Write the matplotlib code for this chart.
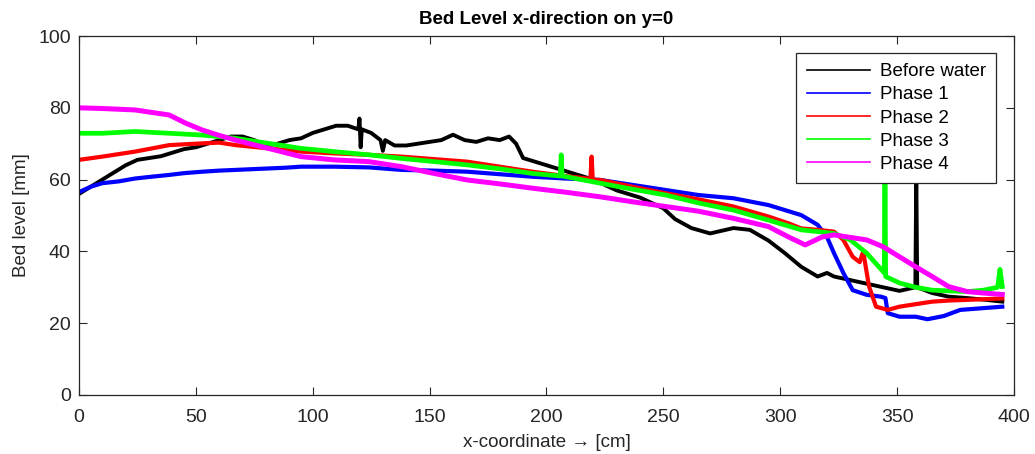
import matplotlib
matplotlib.use("Agg")
import matplotlib.pyplot as plt
import numpy as np

plt.rcParams['font.family'] = ['Liberation Sans', 'DejaVu Sans']

# Bed level readings [mm] along x [cm]
black_x = [0, 5, 10, 15, 20, 25, 30, 35, 40, 45,
           50, 55, 60, 65, 70, 75, 80, 85, 90, 95,
           100, 105, 110, 115, 119.5, 120, 120.5, 121, 125, 129,
           130, 131, 135, 140, 145, 150, 155, 160, 165, 170,
           175, 180, 184, 187, 190, 195, 200, 205, 210, 215,
           220, 230, 240, 250, 255, 262, 270, 280, 287, 295,
           302, 309, 316, 320, 323, 330, 337, 344, 351, 357.8,
           358.2, 358.6, 365, 372, 380, 388, 395]
black_y = [56, 58, 60, 62, 64, 65.5, 66, 66.5, 67.5, 68.5,
           69, 70, 71, 72, 72, 71, 69.5, 70, 71, 71.5,
           73, 74, 75, 75, 74, 77, 69, 74, 73, 71,
           68, 71, 69.5, 69.5, 70, 70.5, 71, 72.5, 71, 70.5,
           71.5, 71, 72, 70, 66, 65, 64, 63, 62, 61,
           60, 57, 55, 52, 49, 46.5, 45, 46.5, 46, 43,
           39.5, 35.7, 33, 34, 33, 32, 31, 30, 29, 30,
           62, 30, 28.4, 27.4, 27, 26.5, 26]

blue_x = [0, 5, 10, 17, 24, 31, 38.6, 45, 52.8, 60,
          67, 74, 81, 88, 95, 109, 124, 138, 152, 166,
          180, 194, 208, 223, 237, 251, 265, 280, 295, 302,
          309, 316, 320, 323, 327, 331, 337, 343, 345, 346,
          351, 358, 363, 370, 377, 387, 395]
blue_y = [56.5, 58, 59, 59.5, 60.3, 60.8, 61.3, 61.8, 62.2, 62.5,
          62.7, 62.9, 63.1, 63.3, 63.6, 63.6, 63.4, 62.7, 62.5, 62.2,
          61.5, 60.8, 60.3, 59.9, 58.5, 57.1, 55.7, 54.8, 52.9, 51.5,
          50.1, 47.4, 44, 39.5, 34, 29.2, 27.9, 27.4, 27, 22.8,
          21.8, 21.8, 21.1, 22, 23.7, 24.2, 24.6]

red_x = [0, 10, 24, 38.6, 52.8, 60, 67, 81, 95, 109,
         124, 138, 152, 166, 180, 194, 208, 218.8, 219.3, 219.8,
         223, 237, 251, 265, 280, 295, 303.6, 309, 316, 323,
         327, 331, 334, 335.5, 336.5, 338, 341, 346, 351, 358,
         365, 372, 380, 388, 395]
red_y = [65.5, 66.4, 67.8, 69.6, 70.1, 70.3, 69.6, 68.7, 67.8, 67.3,
         66.9, 66.4, 65.7, 65, 63.6, 62.2, 61, 60.2, 66.4, 60,
         59.9, 58, 56.2, 54.5, 52.5, 49.7, 47.8, 46.4, 46, 45.5,
         43.2, 38.5, 37, 40, 36, 30.2, 24.6, 23.7, 24.6, 25.3,
         26, 26.3, 26.5, 26.7, 26.9]

green_x = [0, 10, 24, 38.6, 52.8, 67, 81, 95, 109, 124,
           138, 152, 166, 180, 194, 205.9, 206.3, 206.7, 223, 237,
           251, 265, 280, 295, 309, 323, 330, 337, 344.5, 344.8,
           345.1, 351, 358, 365, 372, 380, 387, 393, 394, 395]
green_y = [72.9, 72.9, 73.4, 72.9, 72.4, 71.5, 70.1, 68.7, 67.8, 66.9,
           65.9, 65, 64.1, 63, 61.7, 61, 66.9, 61, 59, 57.3,
           55.7, 53.5, 51.5, 48.7, 46, 45, 43.2, 39.5, 34, 62,
           33, 31.2, 30, 29.2, 29, 28.8, 29.2, 30, 35, 30.2]

mag_x = [0, 10, 24, 38.6, 45.7, 52.8, 60, 67, 81, 95,
         109, 124, 138, 152, 166, 180, 194, 208, 223, 237,
         251, 265, 280, 295, 303.6, 310.7, 317.8, 323, 337, 344,
         351, 358, 365, 372, 380, 387, 395]
mag_y = [80, 79.8, 79.4, 78, 75.7, 73.8, 72.3, 71, 68.7, 66.4,
         65.5, 65, 63.6, 61.7, 59.9, 58.8, 57.6, 56.5, 55.2, 53.8,
         52.5, 51.2, 49.2, 46.9, 44, 41.8, 44, 44.6, 43.2, 41.3,
         38.5, 35.7, 33, 30.2, 28.8, 28.4, 28]

fig = plt.figure(figsize=(10.35, 4.54), dpi=100)
ax = fig.add_axes([0.0763, 0.13, 0.9034, 0.7907])

ax.plot(black_x, black_y, color='k', lw=2.8, label='Before water')
ax.plot(blue_x, blue_y, color='#0000ff', lw=3.0, label='Phase 1')
ax.plot(red_x, red_y, color='#ff0000', lw=3.0, label='Phase 2')
ax.plot(green_x, green_y, color='#00ff00', lw=3.4, label='Phase 3')
ax.plot(mag_x, mag_y, color='#ff00ff', lw=3.6, label='Phase 4')

ax.set_xlim(0, 400)
ax.set_ylim(0, 100)
ax.set_xticks(np.arange(0, 401, 50))
ax.set_yticks(np.arange(0, 101, 20))
ax.tick_params(direction='in', top=True, right=True, length=6, width=0.8,
               labelsize=14, colors='#262626')
ax.tick_params(axis='x', pad=10)
ax.tick_params(axis='y', pad=6)
for s in ax.spines.values():
    s.set_color('#262626')
    s.set_linewidth(0.9)

ax.set_title('Bed Level x-direction on y=0', fontsize=13.5, fontweight='bold', pad=9)
ax.set_xlabel('x-coordinate \u2192 [cm]', fontsize=13.5, color='#262626', labelpad=6)
ax.set_ylabel('Bed level [mm]', fontsize=13.5, color='#262626', labelpad=6)

leg = ax.legend(loc='upper right', bbox_to_anchor=(0.981, 0.953), borderaxespad=0,
                fontsize=13.5, fancybox=False, framealpha=1, edgecolor='#262626',
                handlelength=3.4, labelspacing=0.32, borderpad=0.55, handletextpad=0.5)
for h in leg.get_lines():
    h.set_linewidth(1.2)
leg.get_frame().set_linewidth(0.9)

fig.savefig('out.png', dpi=100)
